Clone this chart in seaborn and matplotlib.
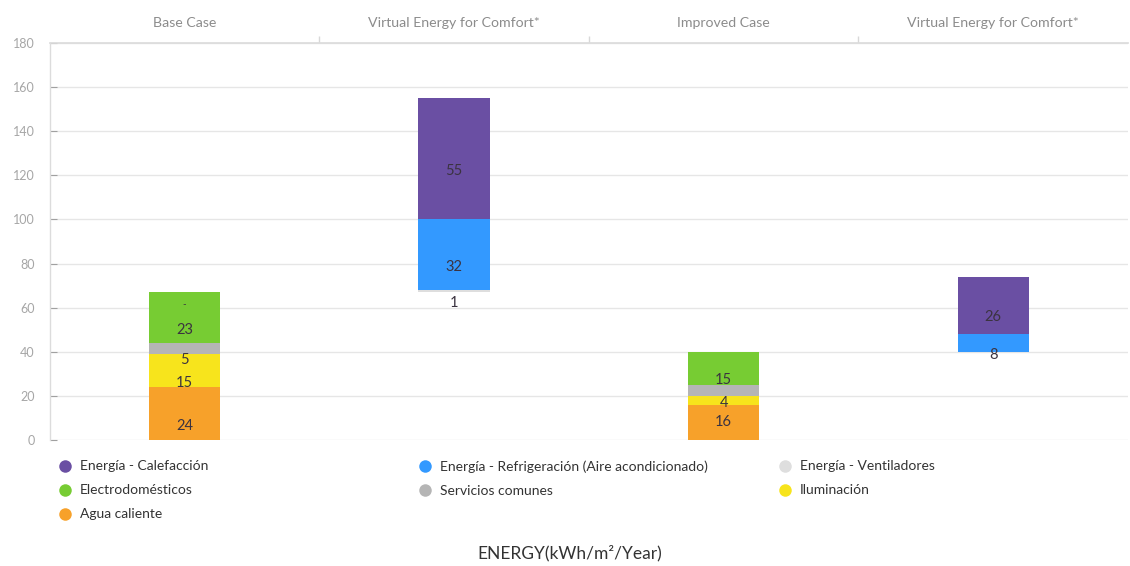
import matplotlib
matplotlib.use("Agg")
import matplotlib.pyplot as plt
import seaborn as sns
from matplotlib.lines import Line2D

# ---- data -------------------------------------------------------------
columns = ["Base Case", "Virtual Energy for Comfort*", "Improved Case",
           "Virtual Energy for Comfort*"]
column_ids = ["base", "virtual_base", "improved", "virtual_improved"]
# virtual columns float on top of the total of the case before them
starts_on = [None, 0, None, 2]

series = ["Agua caliente", "Iluminación", "Servicios comunes", "Electrodomésticos",
          "Energía - Ventiladores", "Energía - Refrigeración (Aire acondicionado)",
          "Energía - Calefacción"]
agua_caliente = [24, 0, 16, 0]
iluminacion = [15, 0, 4, 0]
servicios_comunes = [5, 0, 5, 0]
electrodomesticos = [23, 0, 15, 0]
ventiladores = [0, 1, 0, 0]
refrigeracion = [0, 32, 0, 8]
calefaccion = [0, 55, 0, 26]

# value labels printed on each column (None = no label)
labels_agua = ["24", None, "16", None]
labels_ilum = ["15", None, "4", None]
labels_serv = ["5", None, None, None]
labels_elec = ["23", None, "15", None]
labels_vent = ["-", "1", None, None]
labels_refr = [None, "32", None, "8"]
labels_cale = [None, "55", None, "26"]

colors = {
    "Energía - Calefacción": "#6a4fa3",
    "Energía - Refrigeración (Aire acondicionado)": "#3399ff",
    "Energía - Ventiladores": "#dedede",
    "Electrodomésticos": "#77cc33",
    "Servicios comunes": "#b5b5b5",
    "Iluminación": "#f7e41c",
    "Agua caliente": "#f7a12a",
}

values = [agua_caliente, iluminacion, servicios_comunes, electrodomesticos,
          ventiladores, refrigeracion, calefaccion]
labels = [labels_agua, labels_ilum, labels_serv, labels_elec,
          labels_vent, labels_refr, labels_cale]

# ---- style ------------------------------------------------------------
sns.set_theme(style="white")
plt.rcParams["font.family"] = ["Lato", "DejaVu Sans"]

fig = plt.figure(figsize=(11.3, 5.66), dpi=100)
ax = fig.add_axes([0.0442, 0.2226, 0.954, 0.7014])

totals = []
label_offsets_px = {(0, 2): 0, (1, 2): -3}  # (series, column): pixel shift

for j, cid in enumerate(column_ids):
    base = 0 if starts_on[j] is None else totals[starts_on[j]]
    for i, name in enumerate(series):
        v = values[i][j]
        if v > 0:
            sns.barplot(x=[cid], y=[v], order=column_ids, bottom=base,
                        color=colors[name], saturation=1, width=0.265,
                        errorbar=None, linewidth=0, ax=ax, zorder=3)
        lab = labels[i][j]
        if lab is not None:
            off = label_offsets_px.get((i, j), -12)
            ax.annotate(lab, (j, base + v / 2), xytext=(0, off),
                        textcoords="offset pixels", ha="center", va="center",
                        fontsize=10.5 if lab != "-" else 7, color="#3b3340",
                        zorder=5)
        base += v
    totals.append(base)

# ---- axes -------------------------------------------------------------
ax.set_ylim(0, 180)
ax.set_xlim(-0.5, 3.5)
ax.set_yticks(range(0, 181, 20))
ax.yaxis.grid(True, color="#e6e6e6", linewidth=1, zorder=0)
ax.xaxis.grid(False)
ax.set_axisbelow(True)
ax.tick_params(axis="y", labelsize=9, colors="#a0a0a0", direction="in",
               length=5, width=0.8, pad=11, left=True)
ax.tick_params(axis="y", labelcolor="#a6a6a6")

ax.xaxis.tick_top()
ax.set_xticks(range(4))
ax.set_xticklabels(columns)
ax.tick_params(axis="x", which="major", length=0, pad=10, labelsize=10.2,
               labelcolor="#8c8c8c")
ax.set_xticks([0.5, 1.5, 2.5], minor=True)
ax.tick_params(axis="x", which="minor", top=True, bottom=False, length=5,
               direction="out", color="#d8d8d8", width=1)
ax.set_xlabel("")
ax.set_ylabel("")

for side in ["right", "bottom"]:
    ax.spines[side].set_visible(False)
ax.spines["top"].set_color("#dcdcdc")
ax.spines["left"].set_color("#dcdcdc")
ax.spines["left"].set_linewidth(1)

# ---- legend (three columns) -------------------------------------------
legend_cols = [
    ["Energía - Calefacción", "Electrodomésticos", "Agua caliente"],
    ["Energía - Refrigeración (Aire acondicionado)", "Servicios comunes"],
    ["Energía - Ventiladores", "Iluminación"],
]
legend_x = [0.0513, 0.370, 0.6885]
for names, lx in zip(legend_cols, legend_x):
    handles = [Line2D([], [], marker="o", linestyle="", markersize=9,
                      markerfacecolor=colors[n], markeredgewidth=0) for n in names]
    fig.legend(handles, names, loc="upper left", bbox_to_anchor=(lx, 0.1864),
               frameon=False, fontsize=10, labelcolor="#333333",
               handlelength=1.0, handletextpad=0.58, labelspacing=0.86,
               borderpad=0, borderaxespad=0)

fig.text(0.504, 0.023, "ENERGY(kWh/m²/Year)", ha="center", va="center",
         fontsize=12.5, color="#333333")

fig.savefig("out.png", dpi=100)
